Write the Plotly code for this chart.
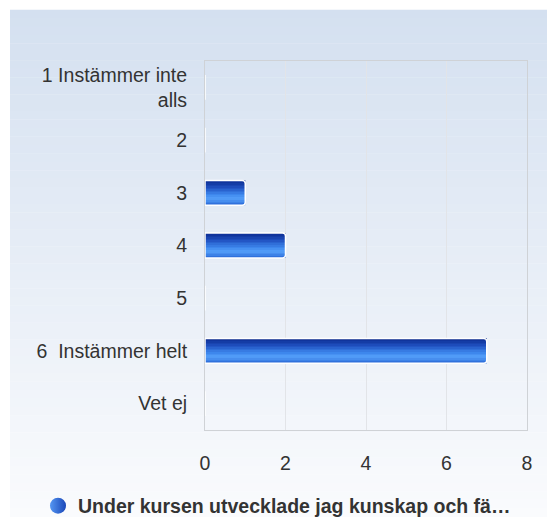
import plotly.graph_objects as go

categories = ["1 Instämmer inte<br>alls", "2", "3", "4", "5", "6  Instämmer helt", "Vet ej"]
values = [0, 0, 1, 2, 0, 7, 0]
series_name = "Under kursen utvecklade jag kunskap och fä…"
x_ticks = [0, 2, 4, 6, 8]

W, H = 547, 517
L, R, T, B = 205, 20, 61, 87
pw, ph = W - L - R, H - T - B
FONT = "Liberation Sans, Arial, sans-serif"
FS = 19.5

def lerp(c1, c2, t):
    return tuple(round(a + (b - a) * t) for a, b in zip(c1, c2))

def hexc(c):
    return "#%02x%02x%02x" % c

# bar gradient stops (top -> bottom)
stops = [(0.0, (10, 40, 140)), (0.3, (30, 78, 190)), (0.6, (62, 136, 238)),
         (0.75, (85, 160, 250)), (0.9, (62, 132, 232)), (1.0, (42, 104, 214))]

def grad(t):
    for (t0, c0), (t1, c1) in zip(stops, stops[1:]):
        if t <= t1:
            return lerp(c0, c1, (t - t0) / (t1 - t0))
    return stops[-1][1]

bw = 0.47
N = 16
fig = go.Figure()
for i in range(N):
    fig.add_trace(go.Bar(
        y=categories, x=values, orientation="h",
        width=bw / N + 0.002, offset=-bw / 2 + i * bw / N,
        marker=dict(color=hexc(grad((i + 0.5) / N)), line=dict(width=0)),
        showlegend=False, hoverinfo="skip"))
fig.add_trace(go.Bar(
    y=categories, x=values, orientation="h", width=bw, offset=-bw / 2,
    marker=dict(color="rgba(0,0,0,0)", line=dict(color="white", width=1.5), cornerradius=3),
    showlegend=False, hoverinfo="skip"))
fig.add_trace(go.Scatter(
    x=[None], y=[None], mode="markers", name=series_name,
    marker=dict(symbol="circle", size=16, color="#5596f2",
                gradient=dict(type="horizontal", color="#1a47b8"), line=dict(width=0))))

# background panel gradient
shapes = []
top, bot = 10, H
NS = 60
c_top, c_bot = (212, 224, 240), (250, 251, 253)
for k in range(NS):
    y0 = top + (bot - top) * k / NS
    y1 = top + (bot - top) * (k + 1) / NS
    col = hexc(lerp(c_top, c_bot, (k + 0.5) / NS))
    shapes.append(dict(type="rect", xref="paper", yref="paper", layer="below",
                       x0=(10 - L) / pw, x1=(W - L) / pw,
                       y0=(H - B - y1) / ph, y1=(H - B - y0) / ph + 0.001,
                       fillcolor=col, line=dict(width=0)))

fig.update_layout(
    width=W, height=H, margin=dict(l=L, r=R, t=T, b=B, autoexpand=False),
    paper_bgcolor="white", plot_bgcolor="rgba(0,0,0,0)",
    barmode="overlay", shapes=shapes,
    font=dict(family=FONT, size=FS, color="#333333"),
    xaxis=dict(range=[0, 8], tickvals=x_ticks, showgrid=True, gridcolor="#e2e4e8", gridwidth=1,
               zeroline=False, showline=True, linecolor="#cfd2d6", mirror=True,
               ticks="", ticklabelstandoff=16, tickfont=dict(size=FS, color="#333333")),
    yaxis=dict(autorange="reversed", showgrid=False, showline=True, linecolor="#cfd2d6", mirror=True,
               ticks="", ticklabelstandoff=13, tickfont=dict(size=FS, color="#333333")),
    legend=dict(orientation="h", xref="container", yref="container",
                x=38 / W, xanchor="left", y=(H - 506) / H, yanchor="middle",
                font=dict(size=FS, color="#333333", family=FONT, weight="bold"),
                bgcolor="rgba(0,0,0,0)", itemsizing="trace"),
    showlegend=True,
)
fig.write_html("out.html", config={"displayModeBar": False},
               post_script="document.body.style.margin='0';")
